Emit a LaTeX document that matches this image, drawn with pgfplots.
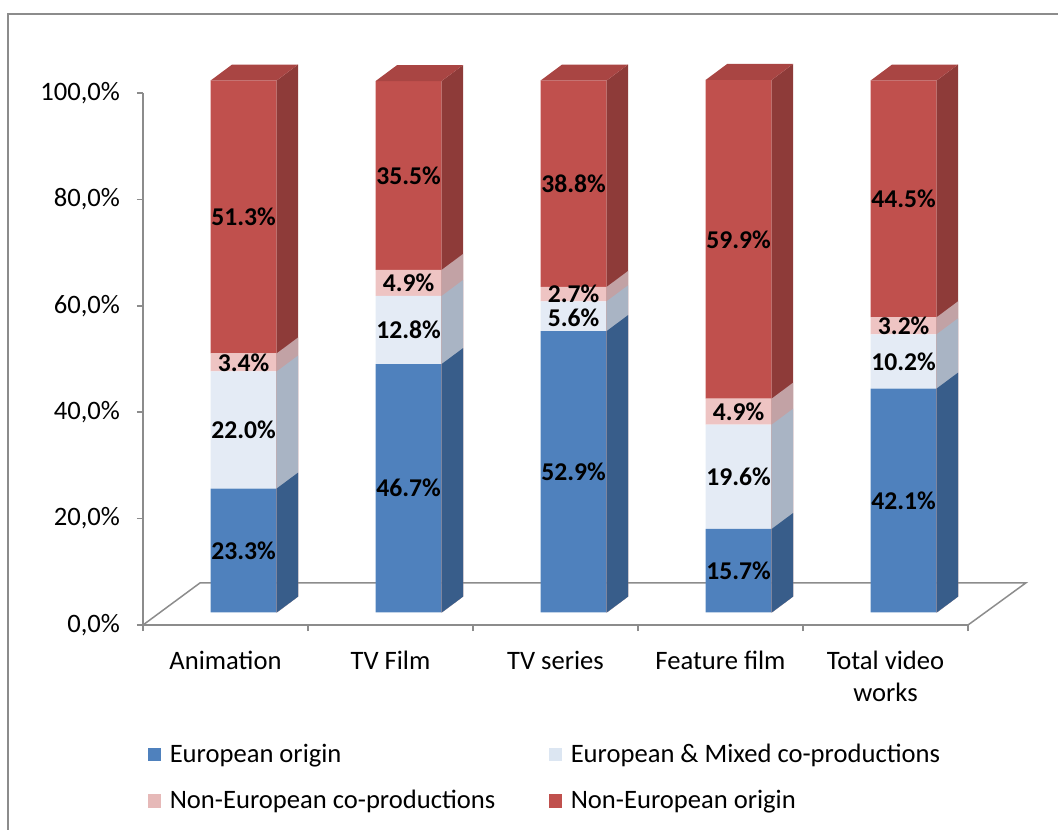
\documentclass[border=0pt]{standalone}
\usepackage{fontspec}
\setmainfont{Carlito}
\usepackage{pgfplots}
\pgfplotsset{compat=1.18}
\definecolor{blueF}{HTML}{4F81BD}
\definecolor{blueS}{HTML}{385D8A}
\definecolor{lightF}{HTML}{E4EBF5}
\definecolor{lightS}{HTML}{A9B4C4}
\definecolor{pinkF}{HTML}{EEC4C3}
\definecolor{pinkS}{HTML}{C2A2A5}
\definecolor{redF}{HTML}{C0504D}
\definecolor{redS}{HTML}{8E3B39}
\definecolor{redT}{HTML}{A94543}
\definecolor{axisgray}{HTML}{8C8C8C}
\definecolor{legblue}{HTML}{4F81BD}
\definecolor{leglight}{HTML}{DCE6F2}
\definecolor{legpink}{HTML}{E6B9B8}
\definecolor{legred}{HTML}{C0504D}
\newcommand\chartfont{\fontsize{13.3}{16}\selectfont}
\newcommand\labelfont{\fontsize{12.8}{15}\selectfont}
\begin{document}
\begin{tikzpicture}[x=1pt,y=1pt]
\path[use as bounding box] (-71.5,-102) rectangle (457.5,312.5);
\draw[color=axisgray, line width=1pt] (-67.5,-103) -- (-67.5,305.5) -- (458,305.5);
% ---- axis 1: visible axes, floor, legend
\begin{axis}[
  at={(0,0)}, anchor=south west, scale only axis,
  width=412.5pt, height=266pt,
  xmin=0, xmax=5, ymin=0, ymax=100,
  clip=false,
  axis x line*=bottom, axis y line*=left,
  axis line style={draw=axisgray, line width=0.75pt},
  ytick={0,20,40,60,80,100},
  yticklabels={{0,0\%},{20,0\%},{40,0\%},{60,0\%},{80,0\%},{100,0\%}},
  xtick={0.5,1.5,2.5,3.5,4.5},
  xticklabels={Animation,TV Film,TV series,Feature film,{Total video\\works}},
  minor xtick={0,1,2,3,4,5},
  tick align=outside,
  major tick length=3pt, minor tick length=3pt,
  major x tick style={draw=none},
  tick style={draw=axisgray, line width=0.75pt},
  ticklabel style={font=\chartfont, text=black},
  xticklabel style={align=center, yshift=-6.5pt},
  yticklabel style={xshift=-5pt},
  legend style={at={(-0.002,-0.2075)}, anchor=north west, draw=none, fill=none,
    font=\chartfont, row sep=8.5pt},
  legend columns=2,
  legend cell align=left,
  legend image code/.code={\fill[#1] (0pt,-3.4pt) rectangle (6.8pt,3.4pt); \path (9pt,0pt);},
]
\addplot[axisgray, line width=0.75pt, no marks, forget plot] coordinates {(0,0) (0.345,7.9) (5.35,7.9) (5,0)};
\addlegendimage{fill=legblue, draw=none}
\addlegendentry{\makebox[187.5pt][l]{European origin}}
\addlegendimage{fill=leglight, draw=none}
\addlegendentry{European \& Mixed co-productions}
\addlegendimage{fill=legpink, draw=none}
\addlegendentry{\makebox[187.5pt][l]{Non-European co-productions}}
\addlegendimage{fill=legred, draw=none}
\addlegendentry{Non-European origin}
\end{axis}
% ---- axis 2: front faces of the stacked bars
\begin{axis}[
  at={(0,0)}, anchor=south west, scale only axis,
  width=412.5pt, height=266pt,
  xmin=0, xmax=5, ymin=-2.35, ymax=97.65,
  hide axis, clip=false,
  ybar stacked, bar width=0.4,
]
\addplot[fill=blueF, draw=none] coordinates {(0.61,23.3) (1.61,46.7) (2.61,52.9) (3.61,15.7) (4.61,42.1)};
\addplot[fill=lightF, draw=none] coordinates {(0.61,22.0) (1.61,12.8) (2.61,5.6) (3.61,19.6) (4.61,10.2)};
\addplot[fill=pinkF, draw=none] coordinates {(0.61,3.4) (1.61,4.9) (2.61,2.7) (3.61,4.9) (4.61,3.2)};
\addplot[fill=redF, draw=none] coordinates {(0.61,51.3) (1.61,35.5) (2.61,38.8) (3.61,59.9) (4.61,44.5)};
\end{axis}
% ---- axis 3: side and top faces, data labels
\begin{axis}[
  at={(0,0)}, anchor=south west, scale only axis,
  width=412.5pt, height=266pt,
  xmin=0, xmax=5, ymin=-2.35, ymax=97.65,
  hide axis, clip=false,
]
% Animation
\addplot[fill=redS, draw=none] coordinates {(0.81,0) (0.94,3) (0.94,103.0) (0.81,100.0)} -- cycle;
\addplot[fill=pinkS, draw=none] coordinates {(0.81,0) (0.94,3) (0.94,51.7) (0.81,48.7)} -- cycle;
\addplot[fill=lightS, draw=none] coordinates {(0.81,0) (0.94,3) (0.94,48.3) (0.81,45.3)} -- cycle;
\addplot[fill=blueS, draw=none] coordinates {(0.81,0) (0.94,3) (0.94,26.3) (0.81,23.3)} -- cycle;
\addplot[fill=redT, draw=none] coordinates {(0.41,100.0) (0.54,103.0) (0.94,103.0) (0.81,100.0)} -- cycle;
% TV Film
\addplot[fill=redS, draw=none] coordinates {(1.81,0) (1.94,3) (1.94,102.9) (1.81,99.9)} -- cycle;
\addplot[fill=pinkS, draw=none] coordinates {(1.81,0) (1.94,3) (1.94,67.4) (1.81,64.4)} -- cycle;
\addplot[fill=lightS, draw=none] coordinates {(1.81,0) (1.94,3) (1.94,62.5) (1.81,59.5)} -- cycle;
\addplot[fill=blueS, draw=none] coordinates {(1.81,0) (1.94,3) (1.94,49.7) (1.81,46.7)} -- cycle;
\addplot[fill=redT, draw=none] coordinates {(1.41,99.9) (1.54,102.9) (1.94,102.9) (1.81,99.9)} -- cycle;
% TV series
\addplot[fill=redS, draw=none] coordinates {(2.81,0) (2.94,3) (2.94,103.0) (2.81,100.0)} -- cycle;
\addplot[fill=pinkS, draw=none] coordinates {(2.81,0) (2.94,3) (2.94,64.2) (2.81,61.2)} -- cycle;
\addplot[fill=lightS, draw=none] coordinates {(2.81,0) (2.94,3) (2.94,61.5) (2.81,58.5)} -- cycle;
\addplot[fill=blueS, draw=none] coordinates {(2.81,0) (2.94,3) (2.94,55.9) (2.81,52.9)} -- cycle;
\addplot[fill=redT, draw=none] coordinates {(2.41,100.0) (2.54,103.0) (2.94,103.0) (2.81,100.0)} -- cycle;
% Feature film
\addplot[fill=redS, draw=none] coordinates {(3.81,0) (3.94,3) (3.94,103.1) (3.81,100.1)} -- cycle;
\addplot[fill=pinkS, draw=none] coordinates {(3.81,0) (3.94,3) (3.94,43.2) (3.81,40.2)} -- cycle;
\addplot[fill=lightS, draw=none] coordinates {(3.81,0) (3.94,3) (3.94,38.3) (3.81,35.3)} -- cycle;
\addplot[fill=blueS, draw=none] coordinates {(3.81,0) (3.94,3) (3.94,18.7) (3.81,15.7)} -- cycle;
\addplot[fill=redT, draw=none] coordinates {(3.41,100.1) (3.54,103.1) (3.94,103.1) (3.81,100.1)} -- cycle;
% Total video works
\addplot[fill=redS, draw=none] coordinates {(4.81,0) (4.94,3) (4.94,103.0) (4.81,100.0)} -- cycle;
\addplot[fill=pinkS, draw=none] coordinates {(4.81,0) (4.94,3) (4.94,58.5) (4.81,55.5)} -- cycle;
\addplot[fill=lightS, draw=none] coordinates {(4.81,0) (4.94,3) (4.94,55.3) (4.81,52.3)} -- cycle;
\addplot[fill=blueS, draw=none] coordinates {(4.81,0) (4.94,3) (4.94,45.1) (4.81,42.1)} -- cycle;
\addplot[fill=redT, draw=none] coordinates {(4.41,100.0) (4.54,103.0) (4.94,103.0) (4.81,100.0)} -- cycle;
% data labels
\addplot[draw=none, point meta=explicit symbolic,
  nodes near coords={\textbf{\pgfplotspointmeta\%}},
  nodes near coords align=center,
  every node near coord/.style={font=\labelfont, text=black, inner sep=0pt}]
  table[meta=l] {
x y l
0.61 11.65 23.3
0.61 34.30 22.0
0.61 47.00 3.4
0.61 74.35 51.3
1.61 23.35 46.7
1.61 53.10 12.8
1.61 61.95 4.9
1.61 82.15 35.5
2.61 26.45 52.9
2.61 55.40 5.6
2.61 60.00 2.7
2.61 80.60 38.8
3.61 7.85 15.7
3.61 25.50 19.6
3.61 37.75 4.9
3.61 70.15 59.9
4.61 21.05 42.1
4.61 47.20 10.2
4.61 53.90 3.2
4.61 77.75 44.5
};
\end{axis}
\end{tikzpicture}
\end{document}
